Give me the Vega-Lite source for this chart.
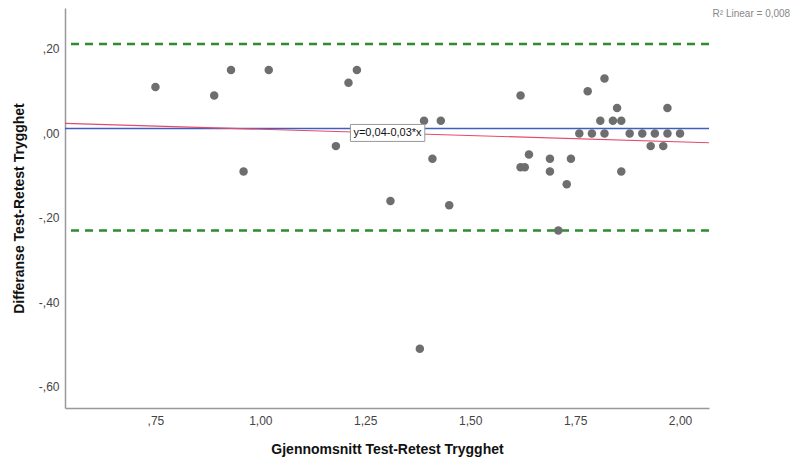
{
  "$schema": "https://vega.github.io/schema/vega-lite/v6.json",
  "width": 644,
  "height": 400,
  "autosize": "none",
  "padding": {"left": 65, "top": 8, "right": 82, "bottom": 50},
  "background": "white",
  "config": {
    "view": {"stroke": null},
    "font": "Liberation Sans",
    "axis": {
      "grid": false,
      "ticks": false,
      "domainColor": "#999999",
      "domainWidth": 1.5,
      "labelFont": "Liberation Sans",
      "labelFontSize": 12,
      "labelColor": "#444444",
      "titleFont": "Liberation Sans",
      "titleFontSize": 14,
      "titleFontWeight": "bold",
      "titleColor": "#111111"
    }
  },
  "datasets": {
    "points": [
      {"avg": 0.75, "diff": 0.11},
      {"avg": 0.89, "diff": 0.09},
      {"avg": 0.93, "diff": 0.15},
      {"avg": 1.02, "diff": 0.15},
      {"avg": 0.96, "diff": -0.09},
      {"avg": 1.18, "diff": -0.03},
      {"avg": 1.21, "diff": 0.12},
      {"avg": 1.23, "diff": 0.15},
      {"avg": 1.31, "diff": -0.16},
      {"avg": 1.38, "diff": -0.51},
      {"avg": 1.39, "diff": 0.03},
      {"avg": 1.43, "diff": 0.03},
      {"avg": 1.41, "diff": -0.06},
      {"avg": 1.45, "diff": -0.17},
      {"avg": 1.62, "diff": 0.09},
      {"avg": 1.62, "diff": -0.08},
      {"avg": 1.63, "diff": -0.08},
      {"avg": 1.64, "diff": -0.05},
      {"avg": 1.69, "diff": -0.06},
      {"avg": 1.69, "diff": -0.09},
      {"avg": 1.71, "diff": -0.23},
      {"avg": 1.73, "diff": -0.12},
      {"avg": 1.74, "diff": -0.06},
      {"avg": 1.76, "diff": 0.0},
      {"avg": 1.78, "diff": 0.10},
      {"avg": 1.79, "diff": 0.0},
      {"avg": 1.81, "diff": 0.03},
      {"avg": 1.82, "diff": 0.13},
      {"avg": 1.82, "diff": 0.0},
      {"avg": 1.84, "diff": 0.03},
      {"avg": 1.85, "diff": 0.06},
      {"avg": 1.86, "diff": 0.03},
      {"avg": 1.86, "diff": -0.09},
      {"avg": 1.88, "diff": 0.0},
      {"avg": 1.91, "diff": 0.0},
      {"avg": 1.93, "diff": -0.03},
      {"avg": 1.94, "diff": 0.0},
      {"avg": 1.96, "diff": -0.03},
      {"avg": 1.97, "diff": 0.0},
      {"avg": 1.97, "diff": 0.06},
      {"avg": 2.0, "diff": 0.0}
    ],
    "fit": [
      {"avg": 0.5345, "diff": 0.024},
      {"avg": 2.069, "diff": -0.022}
    ],
    "mean": [
      {"avg": 0.5345, "diff": 0.012},
      {"avg": 2.069, "diff": 0.012}
    ],
    "limits": [
      {"diff": 0.212},
      {"diff": -0.2296}
    ],
    "box": [
      {"x1": 1.2146, "x2": 1.3918, "y1": 0.0213, "y2": -0.0189, "xc": 1.303, "yc": 0.001, "label": "y=0,04-0,03*x"}
    ],
    "r2": [
      {"x": 2.17, "y": 0.283, "label": "R² Linear = 0,008"}
    ]
  },
  "layer": [
    {
      "data": {"name": "limits"},
      "mark": {"type": "rule", "color": "#2e8b2e", "strokeWidth": 2.5, "strokeDash": [8, 6]},
      "encoding": {
        "y": {"field": "diff", "type": "quantitative",
          "scale": {"domain": [-0.65, 0.297], "nice": false, "zero": false},
          "axis": {
            "values": [-0.6, -0.4, -0.2, 0, 0.2],
            "labelExpr": "(datum.value < -0.0001 ? '-' : '') + replace(abs(datum.value) < 0.9999 ? substring(format(abs(datum.value), '.2f'), 1) : format(abs(datum.value), '.2f'), '.', ',')",
            "labelPadding": 6,
            "titlePadding": 12,
            "title": "Differanse Test-Retest Trygghet"
          }
        }
      }
    },
    {
      "data": {"name": "mean"},
      "mark": {"type": "line", "color": "#3f5fbf", "strokeWidth": 1.5},
      "encoding": {
        "x": {"field": "avg", "type": "quantitative",
          "scale": {"domain": [0.5345, 2.069], "nice": false, "zero": false},
          "axis": {
            "values": [0.75, 1, 1.25, 1.5, 1.75, 2],
            "labelExpr": "(datum.value < -0.0001 ? '-' : '') + replace(abs(datum.value) < 0.9999 ? substring(format(abs(datum.value), '.2f'), 1) : format(abs(datum.value), '.2f'), '.', ',')",
            "labelPadding": 7,
            "titlePadding": 16,
            "title": "Gjennomsnitt Test-Retest Trygghet"
          }
        },
        "y": {"field": "diff", "type": "quantitative"}
      }
    },
    {
      "data": {"name": "fit"},
      "mark": {"type": "line", "color": "#e34a6c", "strokeWidth": 1.2},
      "encoding": {
        "x": {"field": "avg", "type": "quantitative"},
        "y": {"field": "diff", "type": "quantitative"}
      }
    },
    {
      "data": {"name": "points"},
      "mark": {"type": "circle", "size": 72, "color": "#6e6e6e", "opacity": 1},
      "encoding": {
        "x": {"field": "avg", "type": "quantitative"},
        "y": {"field": "diff", "type": "quantitative"}
      }
    },
    {
      "data": {"name": "box"},
      "mark": {"type": "rect", "fill": "white", "stroke": "#999999", "strokeWidth": 1},
      "encoding": {
        "x": {"field": "x1", "type": "quantitative"},
        "x2": {"field": "x2"},
        "y": {"field": "y1", "type": "quantitative"},
        "y2": {"field": "y2"}
      }
    },
    {
      "data": {"name": "box"},
      "mark": {"type": "text", "fontSize": 11, "color": "#111111", "font": "Liberation Sans"},
      "encoding": {
        "x": {"field": "xc", "type": "quantitative"},
        "y": {"field": "yc", "type": "quantitative"},
        "text": {"field": "label"}
      }
    },
    {
      "data": {"name": "r2"},
      "mark": {"type": "text", "fontSize": 10, "color": "#888888", "font": "Liberation Sans", "clip": false},
      "encoding": {
        "x": {"field": "x", "type": "quantitative"},
        "y": {"field": "y", "type": "quantitative"},
        "text": {"field": "label"}
      }
    }
  ]
}
